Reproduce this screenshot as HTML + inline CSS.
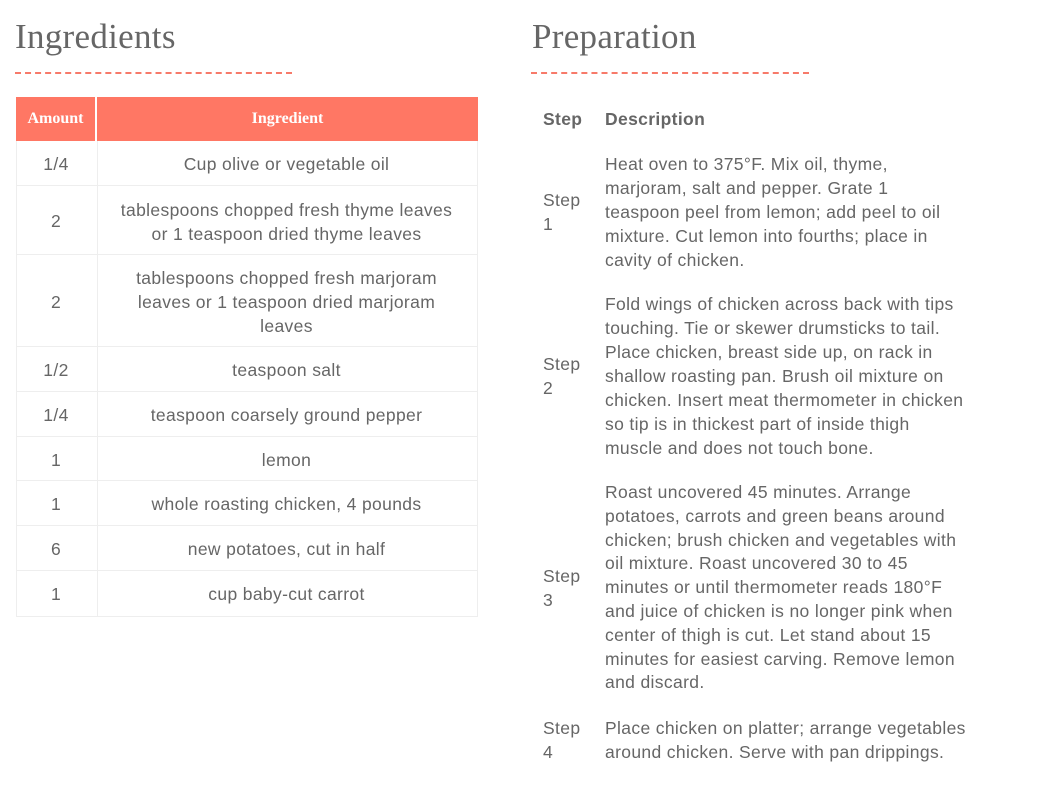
<!DOCTYPE html>
<html><head><meta charset="utf-8"><style>
body{margin:0;width:1060px;height:786px;background:#fff;position:relative;overflow:hidden;font-family:"Liberation Sans",sans-serif;color:#666;}
.h{position:absolute;font-family:"Liberation Serif",serif;font-size:35px;color:#666;top:17px;letter-spacing:0.3px;}
.dash{position:absolute;top:72px;height:0;border-top:2px dashed #f77a6a;}
.t{position:absolute;font-size:17.5px;line-height:24px;white-space:nowrap;color:#666;letter-spacing:0.35px;}
.c{text-align:center;}
.hd{position:absolute;top:97px;height:44px;background:#ff7764;color:#fff;font-family:"Liberation Serif",serif;font-weight:bold;font-size:16px;line-height:44px;text-align:center;}
.row{position:absolute;left:16px;width:462px;border:1px solid #eee;border-top:none;box-sizing:border-box;}
.row:after{content:"";position:absolute;left:80px;top:0;bottom:0;border-left:1px solid #eee;}
</style></head><body>
<div class="h" style="left:15px">Ingredients</div>
<div class="dash" style="left:15px;width:277px"></div>
<div class="h" style="left:532px">Preparation</div>
<div class="dash" style="left:531px;width:278px"></div>

<div class="hd" style="left:16px;width:79px">Amount</div>
<div class="hd" style="left:97px;width:381px">Ingredient</div>

<div class="row" style="top:141px;height:45px"></div>
<div class="row" style="top:186px;height:69px"></div>
<div class="row" style="top:255px;height:92px"></div>
<div class="row" style="top:347px;height:45px"></div>
<div class="row" style="top:392px;height:45px"></div>
<div class="row" style="top:437px;height:44px"></div>
<div class="row" style="top:481px;height:45px"></div>
<div class="row" style="top:526px;height:45px"></div>
<div class="row" style="top:571px;height:46px"></div>

<div class="t c" style="left:16px;width:80px;top:152px">1/4</div>
<div class="t c" style="left:96px;width:381px;top:152px">Cup olive or vegetable oil</div>
<div class="t c" style="left:16px;width:80px;top:209px">2</div>
<div class="t c" style="left:96px;width:381px;top:198px">tablespoons chopped fresh thyme leaves<br>or 1 teaspoon dried thyme leaves</div>
<div class="t c" style="left:16px;width:80px;top:290px">2</div>
<div class="t c" style="left:96px;width:381px;top:266px">tablespoons chopped fresh marjoram<br>leaves or 1 teaspoon dried marjoram<br>leaves</div>
<div class="t c" style="left:16px;width:80px;top:358px">1/2</div>
<div class="t c" style="left:96px;width:381px;top:358px">teaspoon salt</div>
<div class="t c" style="left:16px;width:80px;top:403px">1/4</div>
<div class="t c" style="left:96px;width:381px;top:403px">teaspoon coarsely ground pepper</div>
<div class="t c" style="left:16px;width:80px;top:448px">1</div>
<div class="t c" style="left:96px;width:381px;top:448px">lemon</div>
<div class="t c" style="left:16px;width:80px;top:492px">1</div>
<div class="t c" style="left:96px;width:381px;top:492px">whole roasting chicken, 4 pounds</div>
<div class="t c" style="left:16px;width:80px;top:537px">6</div>
<div class="t c" style="left:96px;width:381px;top:537px">new potatoes, cut in half</div>
<div class="t c" style="left:16px;width:80px;top:582px">1</div>
<div class="t c" style="left:96px;width:381px;top:582px">cup baby-cut carrot</div>

<div class="t" style="left:543px;top:107px;font-weight:bold">Step</div>
<div class="t" style="left:605px;top:107px;font-weight:bold">Description</div>

<div class="t" style="left:543px;top:188px">Step<br>1</div>
<div class="t" style="left:605px;top:152px">Heat oven to 375°F. Mix oil, thyme,<br>marjoram, salt and pepper. Grate 1<br>teaspoon peel from lemon; add peel to oil<br>mixture. Cut lemon into fourths; place in<br>cavity of chicken.</div>

<div class="t" style="left:543px;top:352px">Step<br>2</div>
<div class="t" style="left:605px;top:292px">Fold wings of chicken across back with tips<br>touching. Tie or skewer drumsticks to tail.<br>Place chicken, breast side up, on rack in<br>shallow roasting pan. Brush oil mixture on<br>chicken. Insert meat thermometer in chicken<br>so tip is in thickest part of inside thigh<br>muscle and does not touch bone.</div>

<div class="t" style="left:543px;top:564px">Step<br>3</div>
<div class="t" style="left:605px;top:481px;line-height:23.8px">Roast uncovered 45 minutes. Arrange<br>potatoes, carrots and green beans around<br>chicken; brush chicken and vegetables with<br>oil mixture. Roast uncovered 30 to 45<br>minutes or until thermometer reads 180°F<br>and juice of chicken is no longer pink when<br>center of thigh is cut. Let stand about 15<br>minutes for easiest carving. Remove lemon<br>and discard.</div>

<div class="t" style="left:543px;top:716px">Step<br>4</div>
<div class="t" style="left:605px;top:716px">Place chicken on platter; arrange vegetables<br>around chicken. Serve with pan drippings.</div>
</body></html>
